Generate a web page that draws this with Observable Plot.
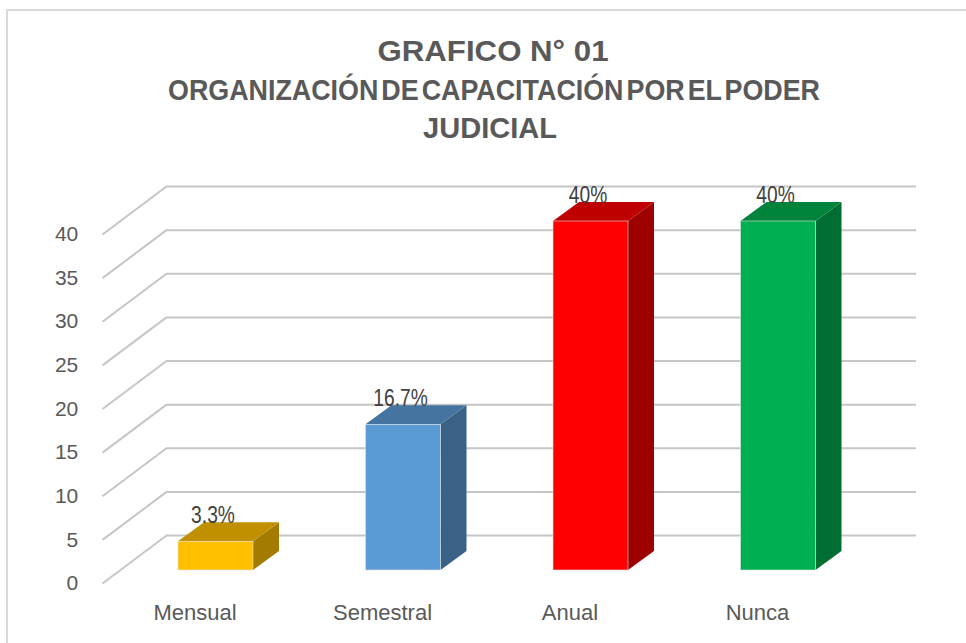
<!DOCTYPE html>
<html><head><meta charset="utf-8">
<script src="https://cdn.jsdelivr.net/npm/d3@7"></script>
<script src="https://cdn.jsdelivr.net/npm/@observablehq/plot@0.6"></script>
<style>
html,body{margin:0;padding:0;background:#fff;}
#wrap{position:relative;width:966px;height:643px;overflow:hidden;background:#fff;}
#chart{position:absolute;left:0;top:0;}
#frame{position:absolute;left:6px;top:9px;width:1000px;height:700px;border-left:2px solid #d9d9d9;border-top:2px solid #d9d9d9;}
#title{position:absolute;left:0;top:0;}
#title text{font-family:"Liberation Sans",Arial,sans-serif;font-weight:bold;font-size:30px;fill:#595959;}
</style></head>
<body>
<div id="wrap"><div id="chart"></div><div id="frame"></div><svg id="title" width="966" height="160"></svg></div>
<script>
const categories = ["Mensual", "Semestral", "Anual", "Nunca"];
const values = [3.3, 16.7, 40, 40];
const valueLabels = ["3.3%", "16.7%", "40%", "40%"];
const frontColors = ["#FFC000", "#5B9BD5", "#FF0000", "#00B050"];
const topColors = ["#C09000", "#4574A0", "#BF0000", "#00843C"];
const sideColors = ["#A27B00", "#396286", "#9E0000", "#006E32"];
const yTicks = [0, 5, 10, 15, 20, 25, 30, 35, 40];
const titleLines = ["GRAFICO N° 01", "ORGANIZACIÓN DE CAPACITACIÓN POR EL PODER", "JUDICIAL"];

// layout (pixels)
const W = 966, H = 643;
const xLeft = 121.75, xRight = 871.75, yBase = 570, yTop = 221;
const kx = (xRight - xLeft) / 4, ky = (yBase - yTop) / 40;
const px = p => p / kx, py = p => p / ky;
const depthX = px(26), depthY = py(19);

const bars = categories.map((c, i) => ({c, i, v: values[i], label: valueLabels[i], front: frontColors[i], top: topColors[i], side: sideColors[i]}));
const topFaces = bars.flatMap(b => [
  {i: b.i, y: b.v, x1: b.i + 0.3, x2: b.i + 0.7, fill: b.top},
  {i: b.i, y: b.v + depthY, x1: b.i + 0.3 + depthX, x2: b.i + 0.7 + depthX, fill: b.top}
]);
const sideFaces = bars.flatMap(b => [
  {i: b.i, x: b.i + 0.7, y1: 0, y2: b.v, fill: b.side},
  {i: b.i, x: b.i + 0.7 + depthX, y1: depthY, y2: b.v + depthY, fill: b.side}
]);

const backX1 = px(166 - xLeft), backX2 = px(916 - xLeft), backDy = py(35);
const frontX = px(102 - xLeft), frontDy = py(13);
const gridStroke = "#c6c6c6";

const chart = Plot.plot({
  width: W, height: H,
  marginLeft: xLeft, marginRight: W - xRight, marginTop: yTop, marginBottom: H - yBase,
  x: {domain: [0, 4]},
  y: {domain: [0, 40]},
  color: {type: "identity"},
  style: {background: "transparent", color: "#595959", fontFamily: "'Liberation Sans', Arial, sans-serif"},
  marks: [
    Plot.ruleY(yTicks, {y: d => d + backDy, x1: backX1, x2: backX2, stroke: gridStroke, strokeWidth: 2}),
    Plot.link(yTicks, {x1: frontX, y1: d => d - frontDy, x2: backX1, y2: d => d + backDy, stroke: gridStroke, strokeWidth: 2}),
    Plot.areaY(sideFaces, {x: "x", y1: "y1", y2: "y2", z: "i", fill: "fill"}),
    Plot.areaX(topFaces, {y: "y", x1: "x1", x2: "x2", z: "i", fill: "fill"}),
    Plot.rectY(bars, {x1: d => d.i + 0.3, x2: d => d.i + 0.7, y1: 0, y2: "v", fill: "front", stroke: "#e2e2e2", strokeWidth: 0.6}),
    Plot.axisY(yTicks, {tickSize: 0, tickPadding: 44, dy: 13, fontSize: 21}),
    Plot.axisX(categories.map((c, i) => i + 0.5), {tickSize: 0, tickPadding: 34, dx: -21, fontSize: 22, tickFormat: d => categories[Math.floor(d)]}),
    Plot.text(bars, {x: d => d.i + 0.5, y: "v", text: "label", dx: -3, dy: -26, fontSize: 24, fill: "#404040", className: "vlabels"})
  ]
});
document.getElementById("chart").appendChild(chart);

// condense the value labels (narrow face)
d3.select(chart).selectAll(".vlabels text").each(function() {
  const L = this.getComputedTextLength();
  this.setAttribute("textLength", L * 0.8);
  this.setAttribute("lengthAdjust", "spacingAndGlyphs");
});

// title
const tsvg = d3.select("#title");
const tSpec = [{x: 493, y: 61, len: 231}, {x: 494, y: 100, len: 652}, {x: 490, y: 138, len: 134}];
titleLines.forEach((t, k) => {
  tsvg.append("text").attr("x", tSpec[k].x).attr("y", tSpec[k].y).attr("text-anchor", "middle")
    .attr("textLength", tSpec[k].len).attr("lengthAdjust", "spacingAndGlyphs")
    .style("word-spacing", k === 1 ? "-5px" : null).text(t);
});
</script>
</body></html>
